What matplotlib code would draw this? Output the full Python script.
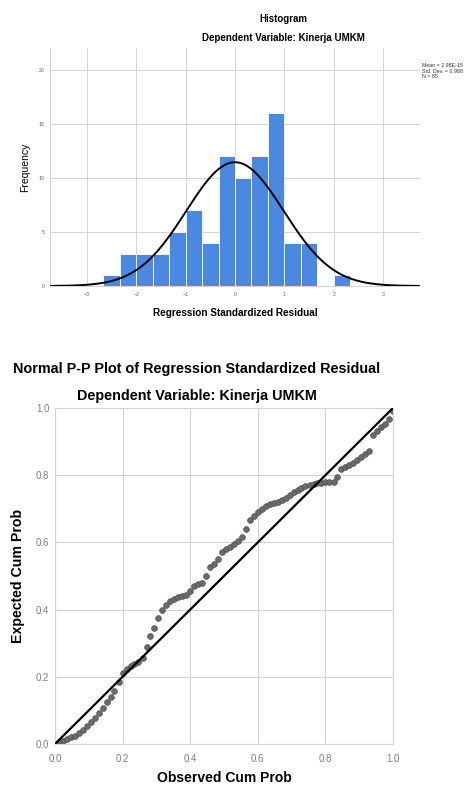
import numpy as np
import matplotlib
matplotlib.use("Agg")
from matplotlib import pyplot as plt

plt.rcParams['font.family'] = ['Liberation Sans', 'DejaVu Sans']

# Histogram data (bin width 1/3)
bin_edges = [-8/3, -7/3, -2, -5/3, -4/3, -1, -2/3, -1/3, 0, 1/3, 2/3, 1, 4/3, 5/3, 2, 7/3]
counts = [1, 3, 3, 3, 5, 7, 4, 12, 10, 12, 16, 4, 4, 0, 1]
mean, std_dev, n = 2.98e-15, 0.988, 85
legend_lines = ["Mean = 2.98E-15", "Std. Dev. = 0.988", "N = 85"]

# P-P plot data
observed = [0.012, 0.024, 0.035, 0.047, 0.059, 0.071, 0.082, 0.094, 0.106, 0.118,
            0.129, 0.141, 0.153, 0.165, 0.176, 0.188, 0.200, 0.212, 0.224, 0.235,
            0.247, 0.259, 0.271, 0.282, 0.294, 0.306, 0.318, 0.329, 0.341, 0.353,
            0.365, 0.376, 0.388, 0.400, 0.412, 0.424, 0.435, 0.447, 0.459, 0.471,
            0.482, 0.494, 0.506, 0.518, 0.529, 0.541, 0.553, 0.565, 0.576, 0.588,
            0.600, 0.612, 0.624, 0.635, 0.647, 0.659, 0.671, 0.682, 0.694, 0.706,
            0.718, 0.729, 0.741, 0.753, 0.765, 0.776, 0.788, 0.800, 0.812, 0.824,
            0.835, 0.847, 0.859, 0.871, 0.882, 0.894, 0.906, 0.918, 0.929, 0.941,
            0.953, 0.965, 0.976, 0.988, 1.000]
expected = [0.005, 0.010, 0.015, 0.020, 0.025, 0.032, 0.043, 0.053, 0.064, 0.078,
            0.093, 0.108, 0.124, 0.141, 0.157, 0.185, 0.212, 0.222, 0.231, 0.238,
            0.245, 0.255, 0.290, 0.320, 0.345, 0.375, 0.400, 0.415, 0.425, 0.432,
            0.438, 0.440, 0.442, 0.455, 0.470, 0.475, 0.479, 0.500, 0.527, 0.535,
            0.550, 0.572, 0.580, 0.587, 0.596, 0.605, 0.615, 0.640, 0.668, 0.680,
            0.689, 0.698, 0.708, 0.713, 0.717, 0.721, 0.727, 0.733, 0.740, 0.749,
            0.757, 0.762, 0.768, 0.772, 0.775, 0.777, 0.778, 0.779, 0.780, 0.781,
            0.795, 0.817, 0.824, 0.831, 0.837, 0.845, 0.853, 0.862, 0.873, 0.920,
            0.933, 0.943, 0.952, 0.968, 0.990]
pp_ticks = [0.0, 0.2, 0.4, 0.6, 0.8, 1.0]

fig = plt.figure(figsize=(4.76, 7.89), dpi=100)
W, H = 476, 789

def px_axes(l, t, r, b):
    return fig.add_axes([l / W, 1 - b / H, (r - l) / W, (b - t) / H])

grid_c = '#d4d4d4'

# --- Histogram ---
ax1 = px_axes(50, 48, 420, 286)
widths = np.diff(bin_edges)
ax1.bar(bin_edges[:-1], counts, width=widths, align='edge',
        color='#4a88e2', edgecolor='white', linewidth=0.6, zorder=2)
xs = np.linspace(-3.75, 3.75, 300)
curve = n * widths[0] * np.exp(-0.5 * ((xs - mean) / std_dev) ** 2) / (std_dev * np.sqrt(2 * np.pi))
ax1.plot(xs, curve, color='black', linewidth=1.4, zorder=3)
ax1.set_xlim(-3.75, 3.75)
ax1.set_ylim(0, 22)
ax1.set_xticks([-3, -2, -1, 0, 1, 2, 3])
ax1.set_yticks([0, 5, 10, 15, 20])
ax1.grid(True, color=grid_c, linewidth=0.7, zorder=0)
ax1.set_axisbelow(True)
for s in ['top', 'right']:
    ax1.spines[s].set_visible(False)
for s in ['left', 'bottom']:
    ax1.spines[s].set_color(grid_c)
ax1.tick_params(length=0, labelsize=3.8, labelcolor='#666666', pad=4)
ax1.set_ylabel('Frequency', fontsize=7.5, labelpad=6)
ax1.set_xlabel('Regression Standardized Residual', fontsize=7.2, fontweight='bold', labelpad=8)
fig.text(283 / W, 1 - 19 / H, 'Histogram', ha='center', va='center', fontsize=7, fontweight='bold')
fig.text(283 / W, 1 - 38 / H, 'Dependent Variable: Kinerja UMKM', ha='center', va='center',
         fontsize=7, fontweight='bold')
fig.text(422 / W, 1 - 63 / H, "\n".join(legend_lines), ha='left', va='top',
         fontsize=3.8, linespacing=1.15, color='#333333')

# --- Normal P-P plot ---
ax2 = px_axes(55, 408, 393, 744)
ax2.plot([0, 1], [0, 1], color='black', linewidth=1.6, zorder=3)
ax2.scatter(observed, expected, s=18, color='#6a6a6a', edgecolors='#4a4a4a',
            linewidths=0.4, zorder=2)
ax2.set_xlim(0, 1)
ax2.set_ylim(0, 1)
ax2.set_xticks(pp_ticks)
ax2.set_yticks(pp_ticks)
ax2.grid(True, color=grid_c, linewidth=0.8, zorder=0)
ax2.set_axisbelow(True)
for s in ax2.spines.values():
    s.set_color(grid_c)
ax2.tick_params(length=0, labelsize=7, labelcolor='#808080')
ax2.tick_params(axis='x', pad=7)
ax2.tick_params(axis='y', pad=4)
ax2.xaxis.set_major_formatter(matplotlib.ticker.FormatStrFormatter('%.1f'))
ax2.yaxis.set_major_formatter(matplotlib.ticker.FormatStrFormatter('%.1f'))
ax2.set_xlabel('Observed Cum Prob', fontsize=10, fontweight='bold', labelpad=5)
ax2.set_ylabel('Expected Cum Prob', fontsize=10.2, fontweight='bold', labelpad=8)
fig.text(197 / W, 1 - 369 / H, 'Normal P-P Plot of Regression Standardized Residual',
         ha='center', va='center', fontsize=10.4, fontweight='bold')
fig.text(197 / W, 1 - 396 / H, 'Dependent Variable: Kinerja UMKM',
         ha='center', va='center', fontsize=10.4, fontweight='bold')

fig.savefig('out.png', dpi=100)
